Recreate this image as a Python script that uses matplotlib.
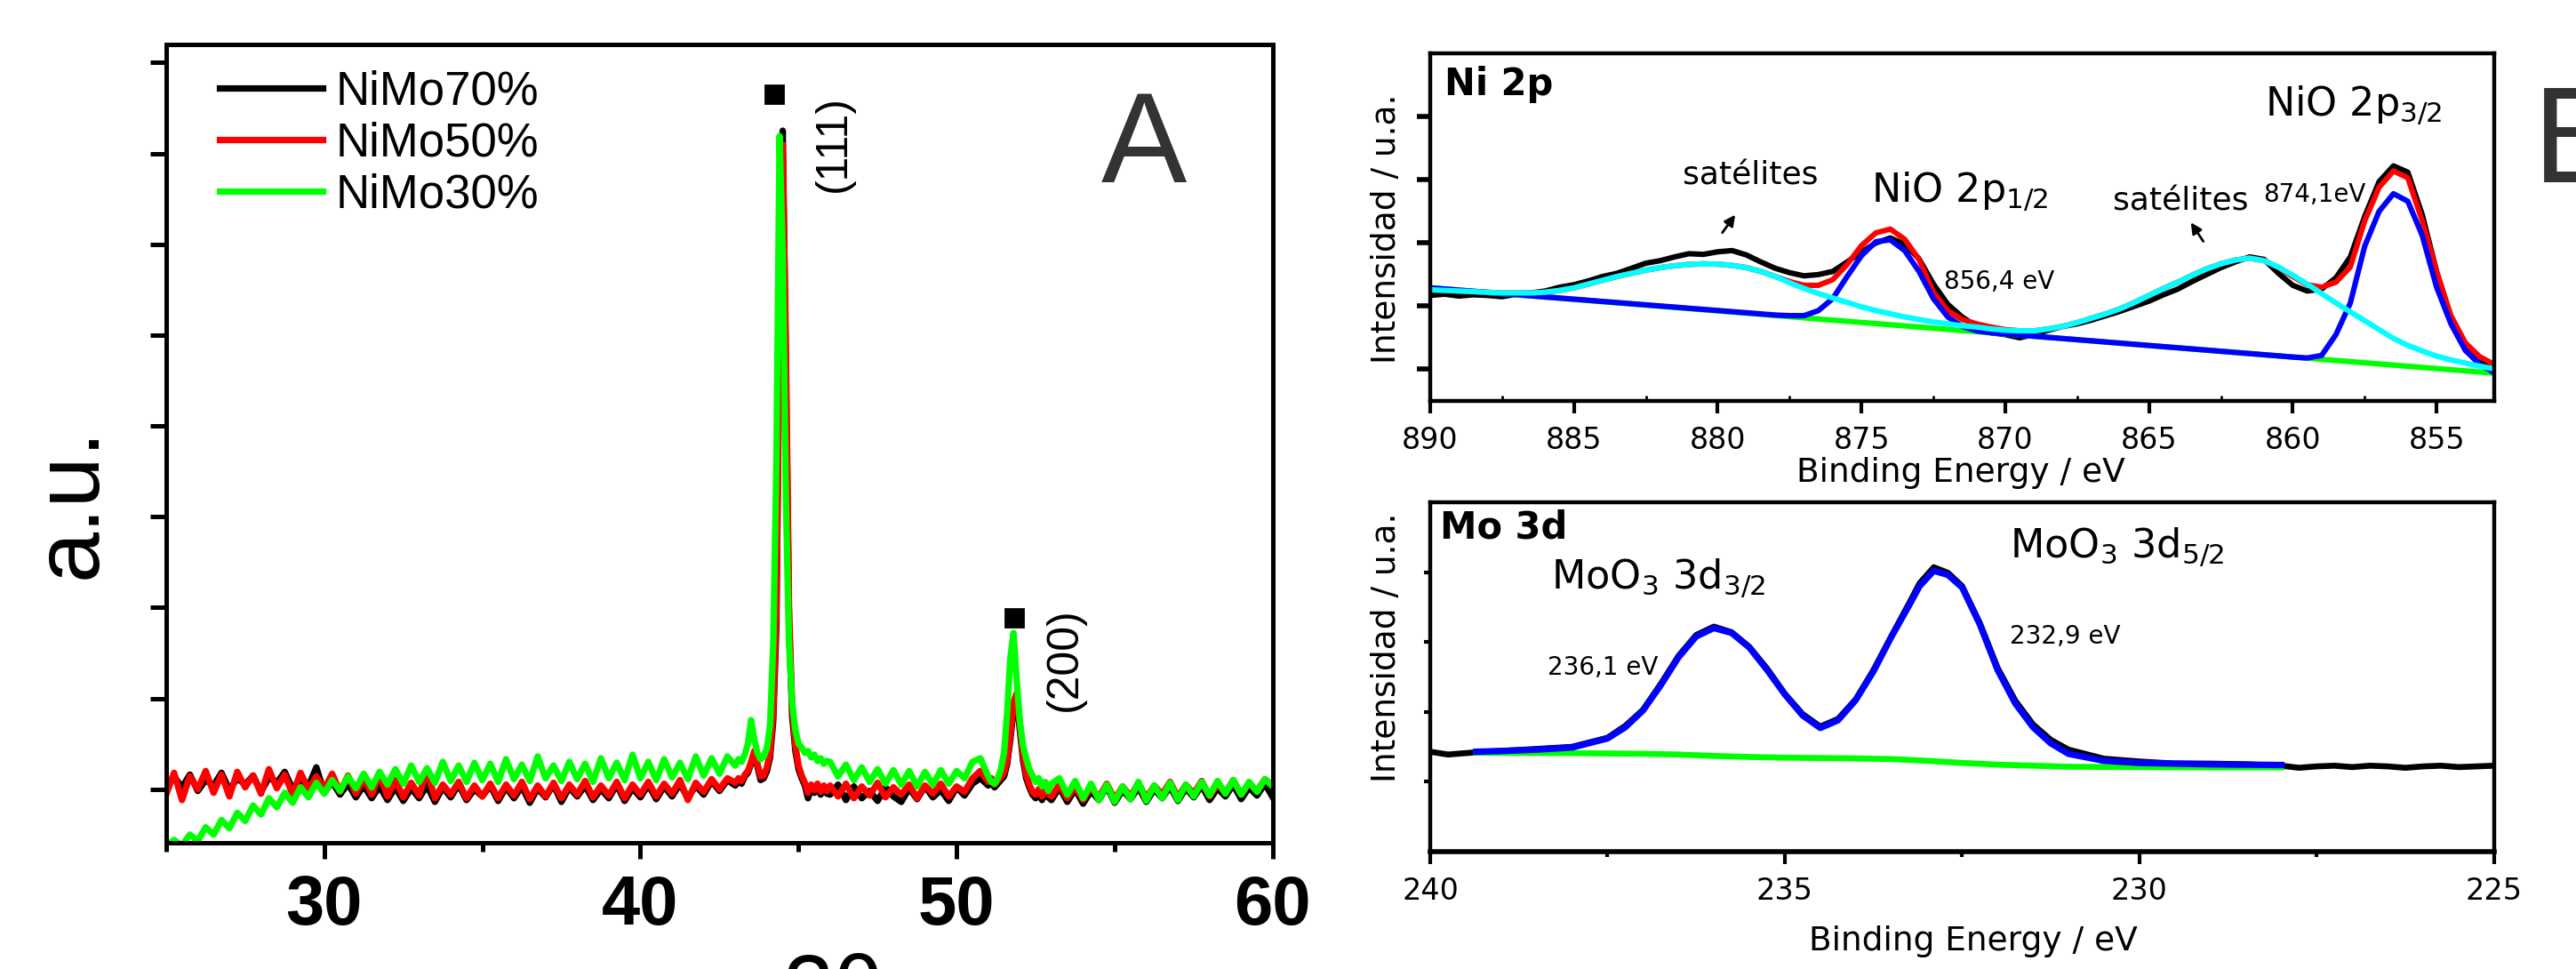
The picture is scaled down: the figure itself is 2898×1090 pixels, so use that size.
import numpy as np
import matplotlib
matplotlib.use('Agg')
import matplotlib.pyplot as plt
from matplotlib.ticker import MultipleLocator

plt.rcParams['font.family'] = ['Liberation Sans', 'DejaVu Sans']
plt.rcParams['mathtext.default'] = 'regular'
B_FONT = ['DejaVu Sans']

# ---------------- panel A: XRD (2 theta, a.u.) ----------------
two_theta = np.round(np.concatenate([
    np.arange(25.0, 42.76, 0.25),
    np.arange(43.0, 45.95, 0.1),
    np.arange(46.0, 50.76, 0.25),
    np.arange(51.0, 52.95, 0.1),
    np.arange(53.0, 60.01, 0.25),
]), 2)

nimo70 = [
    0.00, 0.14, 0.02, 0.16, -0.02, 0.10, 0.04, 0.18, -0.01, 0.12,
    0.05, 0.15, -0.03, 0.13, 0.07, 0.19, 0.00, 0.11, 0.03, 0.24,
    -0.04, 0.08, -0.06, 0.06, -0.09, 0.04, -0.10, 0.03, -0.12, 0.02,
    -0.13, 0.01, -0.10, 0.04, -0.14, 0.02, -0.09, 0.05, -0.12, 0.00,
    -0.08, 0.04, -0.13, 0.02, -0.10, 0.03, -0.15, 0.01, -0.09, 0.05,
    -0.14, 0.02, -0.08, 0.04, -0.12, 0.00, -0.10, 0.05, -0.13, 0.01,
    -0.09, 0.05, -0.11, 0.03, -0.08, 0.06, -0.10, 0.04, -0.06, 0.09,
    -0.02, 0.10,
    0.04, 0.10, 0.06, 0.14, 0.18, 0.28, 0.40, 0.25, 0.10, 0.12,
    0.20, 0.35, 0.75, 1.80, 5.20, 7.25, 4.60, 1.80, 0.80, 0.42,
    0.22, 0.12, 0.04, -0.10, 0.02, -0.04, 0.03, -0.06, 0.01, -0.05,
    -0.06, 0.05, -0.12, 0.03, -0.10, -0.02, -0.13, 0.02, -0.08, -0.14,
    0.01, -0.11, 0.03, -0.09, -0.01, -0.13, 0.02, -0.07, 0.06, 0.12,
    0.04, 0.08, 0.02, 0.06, 0.10, 0.14, 0.28, 0.55, 0.88, 1.00,
    0.65, 0.32, 0.12, 0.02, -0.06, -0.10, -0.05, -0.12, -0.04, -0.09,
    -0.12, 0.02, -0.14, 0.00, -0.16, -0.02, -0.12, 0.03, -0.15, -0.01,
    -0.11, 0.02, -0.14, 0.00, -0.10, 0.03, -0.13, 0.01, -0.09, 0.04,
    -0.12, 0.01, -0.08, 0.05, -0.11, 0.02, -0.07, 0.06, -0.09,
]
nimo50 = [
    -0.06, 0.18, -0.12, 0.14, 0.00, 0.20, -0.04, 0.16, -0.08, 0.19,
    0.02, 0.15, -0.05, 0.22, 0.01, 0.16, -0.06, 0.18, 0.00, 0.14,
    0.00, 0.17, -0.03, 0.15, -0.05, 0.12, -0.06, 0.16, -0.08, 0.10,
    -0.09, 0.07, -0.07, 0.20, -0.10, 0.05, -0.06, 0.08, -0.10, 0.04,
    -0.08, 0.06, -0.10, 0.05, -0.07, 0.08, -0.11, 0.04, -0.08, 0.07,
    -0.10, 0.05, -0.06, 0.09, -0.09, 0.04, -0.07, 0.08, -0.10, 0.05,
    -0.06, 0.08, -0.08, 0.06, -0.05, 0.10, -0.12, 0.07, -0.03, 0.11,
    0.00, 0.12,
    0.07, 0.12, 0.09, 0.16, 0.20, 0.30, 0.42, 0.28, 0.14, 0.15,
    0.24, 0.40, 0.85, 2.00, 5.30, 7.10, 4.90, 2.00, 0.90, 0.48,
    0.26, 0.15, 0.07, -0.04, 0.05, -0.01, 0.06, -0.03, 0.04, -0.02,
    0.04, -0.08, 0.06, -0.10, 0.03, -0.07, 0.07, -0.09, 0.02, -0.06,
    0.05, -0.10, 0.04, -0.05, 0.06, -0.08, 0.03, -0.03, 0.12, 0.20,
    0.08, 0.12, 0.05, 0.09, 0.13, 0.18, 0.32, 0.60, 0.95, 1.06,
    0.72, 0.38, 0.16, 0.05, -0.03, -0.06, 0.00, -0.08, 0.01, -0.05,
    -0.08, 0.05, -0.10, 0.03, -0.12, 0.02, -0.09, 0.06, -0.11, 0.03,
    -0.08, 0.07, -0.10, 0.04, -0.06, 0.08, -0.09, 0.05, -0.05, 0.09,
    -0.08, 0.05, -0.04, 0.10, -0.06, 0.06, -0.02, 0.11, 0.04,
]
nimo30 = [
    -0.62, -0.56, -0.62, -0.50, -0.57, -0.42, -0.50, -0.34, -0.43, -0.26,
    -0.35, -0.18, -0.28, -0.10, -0.20, -0.04, -0.15, 0.02, -0.09, 0.07,
    -0.05, 0.10, -0.02, 0.14, 0.01, 0.17, 0.02, 0.19, 0.05, 0.22,
    0.06, 0.26, 0.08, 0.23, 0.07, 0.30, 0.09, 0.26, 0.08, 0.29,
    0.10, 0.28, 0.08, 0.33, 0.11, 0.27, 0.09, 0.36, 0.12, 0.26,
    0.09, 0.30, 0.11, 0.28, 0.08, 0.34, 0.12, 0.29, 0.10, 0.38,
    0.12, 0.30, 0.10, 0.33, 0.13, 0.29, 0.11, 0.36, 0.15, 0.34,
    0.17, 0.36,
    0.26, 0.33, 0.30, 0.38, 0.50, 0.76, 0.55, 0.40, 0.33, 0.36,
    0.45, 0.70, 1.60, 3.60, 7.19, 5.90, 3.20, 1.60, 0.95, 0.65,
    0.50, 0.46, 0.40, 0.42, 0.35, 0.38, 0.31, 0.34, 0.28, 0.31,
    0.30, 0.14, 0.27, 0.10, 0.24, 0.08, 0.22, 0.06, 0.21, 0.05,
    0.20, 0.03, 0.19, 0.05, 0.21, 0.06, 0.20, 0.12, 0.30, 0.34,
    0.14, 0.08, 0.06, 0.12, 0.22, 0.40, 0.85, 1.45, 1.72, 1.20,
    0.75, 0.48, 0.34, 0.22, 0.15, 0.08, 0.12, 0.03, 0.08, -0.02,
    0.06, 0.12, -0.06, 0.09, -0.10, 0.06, -0.12, 0.05, -0.14, 0.03,
    -0.11, 0.08, -0.13, 0.04, -0.10, 0.07, -0.12, 0.05, -0.08, 0.08,
    -0.07, 0.09, -0.05, 0.10, -0.06, 0.08, -0.03, 0.11, 0.03,
]
xrd_labels = ['NiMo70%', 'NiMo50%', 'NiMo30%']
xrd_colors = ['#000000', '#ff0000', '#00ff00']

# peak markers and hkl labels
peak_x = [44.23, 51.82]
peak_y = [7.65, 1.89]
hkl_text = ['(111)', '(200)']
hkl_x = [46.11, 53.42]
hkl_y = [7.11, 1.43]

# ---------------- panel B top: Ni 2p ----------------
ni_be = np.arange(890.0, 852.9, -0.5)
ni_exp = [
    1.17, 1.19, 1.16, 1.18, 1.17, 1.15, 1.19, 1.21, 1.24, 1.30,
    1.34, 1.40, 1.47, 1.52, 1.60, 1.68, 1.72, 1.78, 1.83, 1.82,
    1.86, 1.88, 1.81, 1.70, 1.60, 1.53, 1.48, 1.50, 1.55, 1.70,
    1.86, 2.00, 2.08, 1.98, 1.75, 1.35, 1.03, 0.83, 0.68, 0.58,
    0.55, 0.50, 0.55, 0.62, 0.68, 0.72, 0.78, 0.85, 0.92, 1.00,
    1.08, 1.18, 1.27, 1.39, 1.50, 1.61, 1.70, 1.78, 1.74, 1.52,
    1.33, 1.24, 1.27, 1.45, 1.78, 2.42, 2.97, 3.22, 3.12, 2.45,
    1.55, 0.80, 0.32, 0.12, 0.04,
]
ni_envelope = [
    1.26, 1.25, 1.24, 1.23, 1.22, 1.21, 1.21, 1.21, 1.22, 1.25,
    1.29, 1.35, 1.41, 1.47, 1.52, 1.57, 1.61, 1.64, 1.66, 1.67,
    1.665, 1.645, 1.61, 1.55, 1.47, 1.39, 1.33, 1.33, 1.42, 1.66,
    1.96, 2.16, 2.22, 2.06, 1.74, 1.22, 0.93, 0.79, 0.72, 0.67,
    0.63, 0.61, 0.61, 0.64, 0.68, 0.74, 0.81, 0.88, 0.96, 1.06,
    1.17, 1.28, 1.38, 1.49, 1.59, 1.67, 1.73, 1.76, 1.72, 1.61,
    1.47, 1.34, 1.30, 1.38, 1.62, 2.35, 2.88, 3.14, 3.03, 2.35,
    1.55, 0.85, 0.42, 0.20, 0.08,
]
ni_satellite = [
    1.26, 1.25, 1.24, 1.23, 1.22, 1.21, 1.21, 1.21, 1.22, 1.25,
    1.29, 1.35, 1.41, 1.47, 1.52, 1.57, 1.61, 1.64, 1.66, 1.67,
    1.665, 1.645, 1.61, 1.55, 1.47, 1.37, 1.28, 1.20, 1.13, 1.06,
    0.99, 0.93, 0.88, 0.83, 0.79, 0.75, 0.72, 0.69, 0.67, 0.64,
    0.62, 0.61, 0.61, 0.64, 0.68, 0.74, 0.81, 0.88, 0.96, 1.06,
    1.17, 1.28, 1.38, 1.49, 1.59, 1.67, 1.73, 1.76, 1.72, 1.62,
    1.49, 1.35, 1.20, 1.05, 0.91, 0.77, 0.63, 0.49, 0.38, 0.29,
    0.21, 0.15, 0.10, 0.05, 0.01,
]
ni_main_be = [890, 878, 877.5, 877, 876.5, 876, 875.5, 875, 874.5, 874,
              873.5, 873, 872.5, 872, 871.5, 871, 870.5, 860, 859.5, 859,
              858.5, 858, 857.5, 857, 856.5, 856, 855.5, 855, 854.5, 854,
              853.5, 853]
ni_main = [1.29, 0.86, 0.85, 0.85, 0.93, 1.12, 1.47, 1.80, 2.02, 2.05,
           1.88, 1.55, 1.12, 0.83, 0.68, 0.61, 0.58, 0.195, 0.18, 0.22,
           0.55, 1.05, 1.95, 2.50, 2.78, 2.66, 2.12, 1.30, 0.72, 0.30,
           0.08, -0.05]
ni_bg_be = [890, 853]
ni_bg = [1.29, -0.06]

# ---------------- panel B bottom: Mo 3d ----------------
mo_exp_be = [240, 239.75, 239.5, 239.25, 239, 238.5, 238, 237.5, 237.25, 237,
             236.75, 236.5, 236.25, 236.0, 235.75, 235.5, 235.25, 235, 234.75, 234.5,
             234.25, 234, 233.75, 233.5, 233.25, 233.1, 232.9, 232.7, 232.5, 232.25,
             232, 231.75, 231.5, 231.25, 231, 230.5, 230, 229.5, 229, 228.5,
             228, 227.75, 227.5, 227.25, 227, 226.75, 226.5, 226.25, 226, 225.75,
             225.5, 225.25, 225]
mo_exp = [0.43, 0.39, 0.41, 0.43, 0.44, 0.47, 0.50, 0.63, 0.80, 1.03,
          1.40, 1.80, 2.10, 2.22, 2.14, 1.93, 1.62, 1.26, 0.97, 0.79,
          0.90, 1.18, 1.60, 2.08, 2.55, 2.84, 3.07, 2.99, 2.80, 2.27,
          1.63, 1.16, 0.82, 0.60, 0.46, 0.33, 0.29, 0.26, 0.26, 0.25,
          0.23, 0.20, 0.22, 0.23, 0.21, 0.23, 0.22, 0.20, 0.22, 0.23,
          0.21, 0.22, 0.23]
mo_fit_be = [239.35, 239, 238.5, 238, 237.5, 237.25, 237, 236.75, 236.5, 236.25,
             236.0, 235.75, 235.5, 235.25, 235, 234.75, 234.5, 234.25, 234, 233.75,
             233.5, 233.25, 233.1, 232.9, 232.7, 232.5, 232.25, 232, 231.75, 231.5,
             231.25, 231, 230.5, 230, 229, 228]
mo_fit = [0.43, 0.44, 0.46, 0.49, 0.62, 0.78, 1.02, 1.38, 1.78, 2.08,
          2.20, 2.13, 1.92, 1.60, 1.25, 0.95, 0.77, 0.88, 1.17, 1.58,
          2.07, 2.52, 2.80, 3.02, 2.96, 2.78, 2.25, 1.60, 1.12, 0.78,
          0.55, 0.40, 0.30, 0.27, 0.25, 0.24]
mo_bg_be = [239.35, 238, 237, 236.5, 236, 235.5, 235, 234.5, 234, 233.5,
            233, 232.5, 232, 231.5, 231, 230, 229, 228]
mo_bg = [0.415, 0.41, 0.40, 0.39, 0.37, 0.355, 0.345, 0.34, 0.335, 0.325,
         0.30, 0.27, 0.245, 0.23, 0.215, 0.21, 0.205, 0.205]


fig = plt.figure(figsize=(14.49, 5.45), dpi=200)
ax_a = fig.add_axes([0.0645, 0.1303, 0.4296, 0.8239])
ax_ni = fig.add_axes([0.5552, 0.5862, 0.4130, 0.3587])
ax_mo = fig.add_axes([0.5552, 0.1211, 0.4130, 0.3606])

# ---- panel A ----
for series, col, lab in zip([nimo70, nimo50, nimo30], xrd_colors, xrd_labels):
    ax_a.plot(two_theta, series, color=col, lw=2.6, label=lab)
ax_a.plot(peak_x, peak_y, 's', color='black', ms=7)
for t, x, y in zip(hkl_text, hkl_x, hkl_y):
    ax_a.text(x, y, t, rotation=90, fontsize=18, ha='center', va='center')
ax_a.set_xlim(25, 60)
ax_a.set_ylim(-0.59, 8.2)
ax_a.set_xticks([30, 40, 50, 60])
ax_a.xaxis.set_minor_locator(MultipleLocator(5))
ax_a.set_yticks(range(0, 9))
ax_a.set_yticklabels([])
ax_a.tick_params(axis='x', which='major', direction='out', length=6.5, width=1.8,
                 labelsize=28, pad=6)
ax_a.tick_params(axis='x', which='minor', direction='out', length=3.6, width=1.8)
ax_a.tick_params(axis='y', direction='out', length=6.5, width=1.8)
for lbl in ax_a.get_xticklabels():
    lbl.set_fontweight('bold')
for sp in ax_a.spines.values():
    sp.set_linewidth(1.8)
ax_a.set_ylabel('a.u.', fontsize=37)
ax_a.yaxis.set_label_coords(-0.046, 0.4265)
ax_a.set_xlabel('2θ', fontsize=37)
ax_a.xaxis.set_label_coords(0.603, -0.137)
ax_a.legend(loc='upper left', bbox_to_anchor=(0.048, 0.968), frameon=False,
            fontsize=19, handlelength=2.2, handletextpad=0.28, labelspacing=0.15,
            borderpad=0, borderaxespad=0)
ax_a.text(0.845, 0.827, 'A', transform=ax_a.transAxes, fontsize=52,
          color='#333333', va='baseline')

# ---- panel B: Ni 2p ----
ax_ni.plot(ni_be, ni_exp, color='black', lw=2.2)
ax_ni.plot(ni_bg_be, ni_bg, color='#00ff00', lw=2.2)
ax_ni.plot(ni_be, ni_envelope, color='#ff0000', lw=2.2)
ax_ni.plot(ni_main_be, ni_main, color='#0000ff', lw=2.2)
ax_ni.plot(ni_be, ni_satellite, color='#00ffff', lw=2.2)
ax_ni.set_xlim(890, 853)
ax_ni.set_ylim(-0.5, 5.0)
ax_ni.set_xticks([890, 885, 880, 875, 870, 865, 860, 855])
ax_ni.xaxis.set_minor_locator(MultipleLocator(2.5))
ax_ni.set_yticks(range(0, 5))
ax_ni.set_yticklabels([])
ax_ni.tick_params(axis='x', which='major', direction='out', length=5, width=1.5,
                  labelsize=12, pad=5, labelfontfamily='DejaVu Sans')
ax_ni.tick_params(axis='x', which='minor', direction='in', length=2, width=1)
ax_ni.tick_params(axis='y', direction='out', length=5.5, width=2)
ax_ni.set_xlabel('Binding Energy / eV', fontsize=13.5, family=B_FONT)
ax_ni.xaxis.set_label_coords(0.499, -0.161)
ax_ni.set_ylabel('Intensidad / u.a.', fontsize=13.5, family=B_FONT)
ax_ni.yaxis.set_label_coords(-0.026, 0.496)
ax_ni.text(889.5, 4.80, 'Ni 2p', fontsize=15, fontweight='bold', family=B_FONT, va='top')
ax_ni.text(878.86, 2.92, 'satélites', fontsize=13, family=B_FONT, ha='center', va='baseline')
ax_ni.text(874.66, 2.64, 'NiO 2p$_{1/2}$', fontsize=16, family=B_FONT, va='baseline')
ax_ni.text(872.13, 1.28, '856,4 eV', fontsize=10, family=B_FONT, va='baseline')
ax_ni.text(866.27, 2.52, 'satélites', fontsize=13, family=B_FONT, va='baseline')
ax_ni.text(861.02, 2.65, '874,1eV', fontsize=10, family=B_FONT, va='baseline')
ax_ni.text(860.96, 4.00, 'NiO 2p$_{3/2}$', fontsize=16, family=B_FONT, va='baseline')
ax_ni.annotate('', xy=(879.29, 2.51), xytext=(879.94, 2.10),
               arrowprops=dict(arrowstyle='-|>', color='black', lw=1, mutation_scale=9))
ax_ni.annotate('', xy=(863.64, 2.39), xytext=(863.02, 1.96),
               arrowprops=dict(arrowstyle='-|>', color='black', lw=1, mutation_scale=9))
for sp in ax_ni.spines.values():
    sp.set_linewidth(1.6)

# ---- panel B: Mo 3d ----
ax_mo.plot(mo_exp_be, mo_exp, color='black', lw=2.4)
ax_mo.plot(mo_bg_be, mo_bg, color='#00ff00', lw=2.4)
ax_mo.plot(mo_fit_be, mo_fit, color='#0000ff', lw=2.6)
ax_mo.set_xlim(240, 225)
ax_mo.set_ylim(-1.0, 4.0)
ax_mo.set_xticks([240, 235, 230, 225])
ax_mo.xaxis.set_minor_locator(MultipleLocator(2.5))
ax_mo.set_yticks(range(0, 4))
ax_mo.set_yticklabels([])
ax_mo.tick_params(axis='x', which='major', direction='out', length=5, width=1.5,
                  labelsize=12, pad=5, labelfontfamily='DejaVu Sans')
ax_mo.tick_params(axis='x', which='minor', direction='out', length=2.2, width=1.5)
ax_mo.tick_params(axis='y', direction='out', length=2.5, width=1.5)
ax_mo.set_xlabel('Binding Energy / eV', fontsize=13.5, family=B_FONT)
ax_mo.xaxis.set_label_coords(0.51, -0.211)
ax_mo.set_ylabel('Intensidad / u.a.', fontsize=13.5, family=B_FONT)
ax_mo.yaxis.set_label_coords(-0.026, 0.585)
ax_mo.text(239.86, 3.90, 'Mo 3d', fontsize=15, fontweight='bold', family=B_FONT, va='top')
ax_mo.text(238.30, 2.76, 'MoO$_3$ 3d$_{3/2}$', fontsize=16, family=B_FONT, va='baseline')
ax_mo.text(238.34, 1.53, '236,1 eV', fontsize=10, family=B_FONT, va='baseline')
ax_mo.text(231.83, 3.20, 'MoO$_3$ 3d$_{5/2}$', fontsize=16, family=B_FONT, va='baseline')
ax_mo.text(231.83, 1.98, '232,9 eV', fontsize=10, family=B_FONT, va='baseline')
for sp in ax_mo.spines.values():
    sp.set_linewidth(1.6)
ax_mo.spines['bottom'].set_linewidth(2.0)

fig.text(2848 / 2898, 1 - 205 / 1090, 'B', fontsize=52, color='#333333',
         family=B_FONT, va='baseline')

fig.savefig('out.png', dpi=200)
